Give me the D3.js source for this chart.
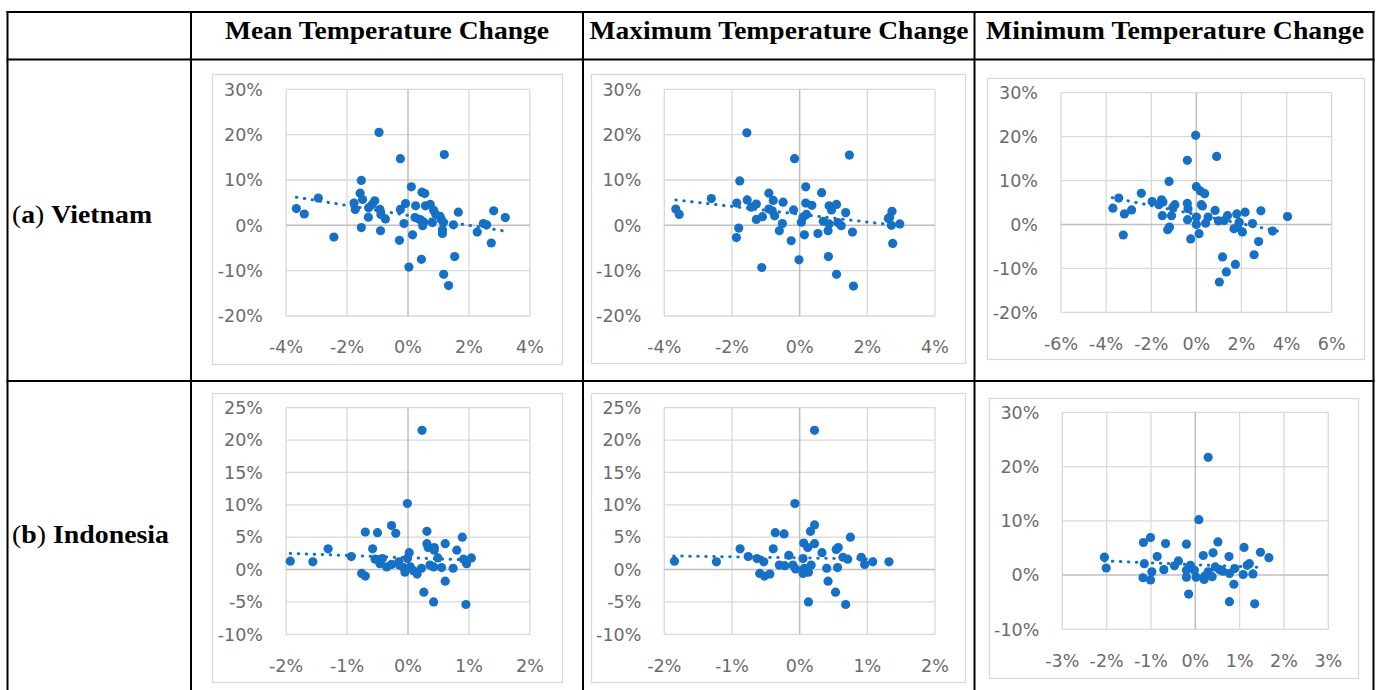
<!DOCTYPE html>
<html><head><meta charset="utf-8">
<script src="https://cdn.jsdelivr.net/npm/d3@7"></script>
<style>body{margin:0;background:#fff} svg{display:block}</style>
</head><body><svg id="c" width="1382" height="690"></svg>
<script>
// ---------- DATA ----------
const columnTitles = ["Mean Temperature Change", "Maximum Temperature Change", "Minimum Temperature Change"];
const rowLetters = ["a", "b"];
const rowNames = ["Vietnam", "Indonesia"];

// tick labels (percent)
const vnXTicksA = [-4, -2, 0, 2, 4];
const vnXTicksB = [-6, -4, -2, 0, 2, 4, 6];
const vnYTicks = [-20, -10, 0, 10, 20, 30];
const idXTicksA = [-2, -1, 0, 1, 2];
const idXTicksB = [-3, -2, -1, 0, 1, 2, 3];
const idYTicksA = [-10, -5, 0, 5, 10, 15, 20, 25];
const idYTicksB = [-10, 0, 10, 20, 30];

// [temperature change %, yield change %]
const vnMean = [[-0.95,20.5],[-0.25,14.7],[1.19,15.6],[-1.53,9.9],[0.11,8.5],[0.46,7.3],[0.55,7.0],[-1.57,7.1],[-2.94,6.0],[-1.77,4.9],
[-1.49,5.7],[-1.09,5.4],[-1.17,4.6],[-1.29,3.9],[-1.73,3.5],[-0.92,3.5],[-3.66,3.7],[-3.40,2.5],[-1.30,1.8],[-0.89,2.4],
[-0.74,1.4],[-0.25,3.5],[-0.08,4.8],[0.25,4.3],[0.57,4.3],[0.73,4.6],[0.84,3.3],[0.91,2.4],[1.05,2.0],[1.09,1.3],
[0.23,1.7],[0.38,1.3],[0.52,0.7],[0.48,-0.1],[0.80,0.6],[1.16,0.6],[1.65,2.9],[2.81,3.2],[3.19,1.7],[2.47,0.4],
[2.58,0.1],[2.27,-1.5],[2.73,-3.9],[1.49,0.1],[1.13,-1.0],[1.13,-1.8],[-0.13,0.4],[0.15,-2.1],[-0.28,-3.3],[-1.53,-0.5],
[-0.90,-1.2],[-2.43,-2.6],[0.44,-7.5],[0.03,-9.2],[1.53,-6.9],[1.17,-10.8],[1.33,-13.3]];
const vnMax = [[-1.56,20.4],[-0.15,14.7],[1.47,15.5],[-1.77,9.8],[0.18,8.5],[0.65,7.2],[-0.91,7.1],[-2.61,5.9],[-1.86,4.9],[-1.55,5.6],
[-0.78,5.5],[-0.49,5.1],[-1.28,4.7],[-1.43,4.0],[-0.91,3.6],[-0.81,3.2],[-3.66,3.6],[-3.56,2.4],[-1.28,1.3],[-1.10,1.9],
[-0.74,2.1],[-0.18,3.4],[0.18,4.9],[0.36,4.4],[0.87,4.3],[1.09,4.6],[0.94,3.4],[1.36,2.8],[0.20,2.4],[0.10,1.8],
[0.05,0.7],[0.70,0.9],[0.87,0.3],[1.13,0.6],[1.23,-0.1],[0.84,-1.2],[-0.51,0.4],[-0.60,-1.2],[0.54,-1.8],[0.14,-2.1],
[1.56,-1.5],[-0.25,-3.4],[-1.80,-0.6],[-1.87,-2.7],[2.62,1.5],[2.73,3.1],[2.96,0.3],[2.71,0.0],[2.75,-4.0],[0.85,-6.9],
[-0.02,-7.6],[-1.12,-9.3],[1.09,-10.8],[1.59,-13.4],[2.66,1.8]];
const vnMin = [[-0.03,20.3],[-0.40,14.6],[0.90,15.5],[-1.21,9.8],[0.0,8.6],[0.18,7.6],[0.37,7.0],[-2.44,7.1],[-3.44,6.0],[-1.96,5.2],
[-1.54,5.6],[-1.48,5.1],[-0.95,4.5],[-1.04,3.9],[-1.66,4.5],[-0.40,4.8],[0.22,4.5],[0.27,4.2],[-3.70,3.7],[-3.19,2.4],
[-2.87,3.3],[-0.37,3.6],[0.83,3.2],[-1.51,2.0],[-1.10,2.0],[0.0,1.7],[0.52,1.7],[-0.39,1.1],[0.41,0.3],[0.98,0.8],
[1.23,0.9],[1.38,2.0],[1.79,2.4],[2.16,2.8],[2.86,3.1],[4.04,1.8],[1.90,0.5],[2.49,0.2],[0.0,0.0],[1.82,-0.6],
[1.67,-1.0],[2.04,-1.7],[3.38,-1.5],[-1.19,-0.6],[-1.27,-1.2],[0.12,-2.1],[-0.25,-3.3],[-3.24,-2.4],[2.76,-3.9],[2.56,-6.9],
[1.16,-7.4],[1.73,-9.1],[1.33,-10.8],[1.02,-13.1]];
const idMean = [[0.23,21.5],[-0.01,10.2],[-0.27,6.8],[-0.70,5.8],[-0.50,5.7],[-0.20,5.6],[0.31,5.9],[0.61,4.0],[0.89,5.0],[0.31,4.0],
[0.33,3.4],[0.43,3.4],[0.43,3.0],[0.80,3.0],[-1.31,3.2],[-0.58,3.2],[-1.93,1.3],[-1.56,1.2],[-0.93,2.0],[-0.54,1.6],
[-0.42,1.7],[-0.46,0.9],[-0.35,0.4],[-0.27,0.8],[-0.15,1.2],[-0.14,0.7],[0.02,2.6],[-0.01,1.7],[-0.07,0.3],[-0.05,-0.4],
[0.04,0.4],[0.09,-0.2],[0.15,-0.7],[0.22,0.2],[0.36,0.7],[0.42,0.4],[0.49,1.8],[0.55,0.3],[0.74,0.2],[0.91,1.6],
[0.96,0.9],[1.04,1.8],[-0.76,-0.6],[-0.70,-1.0],[0.61,-1.8],[0.26,-3.5],[0.42,-5.0],[0.95,-5.4]];
const idMax = [[0.22,21.5],[-0.07,10.2],[0.22,6.9],[0.16,5.9],[-0.36,5.7],[-0.23,5.5],[0.75,5.0],[0.06,4.1],[0.22,4.0],[0.12,3.4],
[0.33,2.6],[0.54,3.1],[0.57,3.4],[-0.88,3.2],[-0.39,3.2],[-1.85,1.3],[-1.23,1.2],[-0.76,2.0],[-0.63,1.7],[-0.53,1.2],
[-0.16,2.2],[-0.30,0.7],[-0.22,0.6],[-0.10,0.7],[-0.06,0.1],[0.05,1.7],[0.07,0.2],[0.05,-0.6],[0.13,-0.4],[0.17,0.7],
[0.64,1.9],[0.71,1.6],[0.91,1.9],[0.96,0.8],[1.08,1.2],[1.32,1.2],[0.40,0.2],[0.56,0.3],[-0.59,-0.6],[-0.52,-1.0],
[-0.44,-0.7],[0.42,-1.8],[0.53,-3.5],[0.13,-5.0],[0.68,-5.4]];
const idMin = [[0.29,21.7],[0.08,10.2],[-1.01,6.9],[-1.17,6.0],[-0.67,5.8],[-0.20,5.7],[0.51,6.1],[1.10,5.1],[1.47,4.2],[1.66,3.2],
[-2.05,3.3],[-0.86,3.4],[0.40,4.1],[0.18,3.6],[0.76,3.4],[-2.01,1.3],[-1.15,2.1],[-0.38,2.6],[-0.47,1.7],[-0.71,1.0],
[-0.98,0.6],[-0.11,1.8],[-0.20,0.9],[-0.20,-0.4],[0.02,-0.4],[0.21,-0.2],[0.20,-0.8],[0.38,-0.3],[0.29,0.6],[0.45,1.5],
[0.55,1.0],[0.62,0.7],[0.77,0.3],[0.89,1.2],[1.08,0.1],[1.17,1.8],[1.22,2.1],[1.30,0.2],[-1.18,-0.5],[-1.01,-0.9],
[0.87,-1.7],[-0.15,-3.5],[0.77,-4.9],[1.34,-5.3],[-0.02,0.9]];

// linear trend line end points
const vnMeanTrend = [[-3.66,6.2],[3.2,-1.3]];
const vnMaxTrend = [[-3.66,5.6],[2.96,-0.1]];
const vnMinTrend = [[-3.73,6.1],[3.9,-1.8]];
const idMeanTrend = [[-1.93,2.5],[0.96,1.5]];
const idMaxTrend = [[-1.86,2.1],[1.19,1.6]];
const idMinTrend = [[-2.05,2.6],[1.53,1.4]];

// ---------- LAYOUT ----------
const panels = [
  {pts: vnMean, trend: vnMeanTrend, xt: vnXTicksA, yt: vnYTicks, box:[211.5,74,561,364], plot:[286,89.3,530,316]},
  {pts: vnMax, trend: vnMaxTrend, xt: vnXTicksA, yt: vnYTicks, box:[591,74,965,363], plot:[664.3,89.3,935,316]},
  {pts: vnMin, trend: vnMinTrend, xt: vnXTicksB, yt: vnYTicks, box:[986.5,78,1363,359], plot:[1061,92.7,1331.7,312.3]},
  {pts: idMean, trend: idMeanTrend, xt: idXTicksA, yt: idYTicksA, box:[211.5,393,561,682], plot:[286,407.7,530,634.3]},
  {pts: idMax, trend: idMaxTrend, xt: idXTicksA, yt: idYTicksA, box:[591,393,965,682], plot:[664.3,407.7,935,634.3]},
  {pts: idMin, trend: idMinTrend, xt: idXTicksB, yt: idYTicksB, box:[988.5,397.7,1357.7,677.7], plot:[1062.3,412.3,1328.3,629.3]}
];

const svg = d3.select("#c");
const blue = "#1570c6";
const tickFont = "'DejaVu Sans', sans-serif";

panels.forEach(p => {
  const [bx0, by0, bx1, by1] = p.box;
  const [px0, py0, px1, py1] = p.plot;
  const g = svg.append("g");
  g.append("rect").attr("x", Math.round(bx0)+0.5).attr("y", Math.round(by0)+0.5)
    .attr("width", Math.round(bx1-bx0)).attr("height", Math.round(by1-by0))
    .attr("fill", "#fff").attr("stroke", "#d9d9d9").attr("stroke-width", 1.3);
  const x = d3.scaleLinear().domain(d3.extent(p.xt)).range([px0, px1]);
  const y = d3.scaleLinear().domain(d3.extent(p.yt)).range([py1, py0]);
  // gridlines
  g.selectAll(".gx").data(p.xt.filter(d => d !== 0)).join("line")
    .attr("x1", d => x(d)).attr("x2", d => x(d)).attr("y1", py0).attr("y2", py1)
    .attr("stroke", "#d9d9d9").attr("stroke-width", 1.3);
  g.selectAll(".gy").data(p.yt.filter(d => d !== 0)).join("line")
    .attr("y1", d => y(d)).attr("y2", d => y(d)).attr("x1", px0).attr("x2", px1)
    .attr("stroke", "#d9d9d9").attr("stroke-width", 1.3);
  // zero axes
  g.append("line").attr("x1", x(0)).attr("x2", x(0)).attr("y1", py0).attr("y2", py1)
    .attr("stroke", "#bfbfbf").attr("stroke-width", 1.5);
  g.append("line").attr("y1", y(0)).attr("y2", y(0)).attr("x1", px0).attr("x2", px1)
    .attr("stroke", "#bfbfbf").attr("stroke-width", 1.5);
  // tick labels
  g.selectAll(".ty").data(p.yt).join("text")
    .attr("x", px0 - 23).attr("y", d => y(d)).attr("dy", "0.36em")
    .attr("text-anchor", "end").attr("font-family", tickFont).attr("font-size", 17.5)
    .attr("fill", "#6b6b6b").text(d => d + "%");
  g.selectAll(".tx").data(p.xt).join("text")
    .attr("x", d => x(d)).attr("y", py1 + 31).attr("dy", "0.36em")
    .attr("text-anchor", "middle").attr("font-family", tickFont).attr("font-size", 17.5)
    .attr("fill", "#6b6b6b").text(d => d + "%");
  // trend line
  g.append("path").datum(p.trend)
    .attr("d", d3.line().x(d => x(d[0])).y(d => y(d[1])))
    .attr("fill", "none").attr("stroke", blue).attr("stroke-width", 3)
    .attr("stroke-linecap", "round").attr("stroke-dasharray", "0.5 7.5");
  // points
  g.selectAll(".pt").data(p.pts).join("circle")
    .attr("cx", d => x(d[0])).attr("cy", d => y(d[1])).attr("r", 4.6)
    .attr("fill", blue);
});

// ---------- TABLE ----------
const tbl = svg.append("g").attr("stroke", "#000").attr("stroke-width", 2);
const hLines = [12, 59.5, 381];
const vLines = [7.5, 191, 583, 974.5, 1373.5];
hLines.forEach(yy => tbl.append("line").attr("x1", 6.5).attr("x2", 1374.5).attr("y1", yy).attr("y2", yy));
vLines.forEach(xx => tbl.append("line").attr("x1", xx).attr("x2", xx).attr("y1", 11).attr("y2", 692));

const serif = "'Liberation Serif', 'Times New Roman', serif";
const colCenters = [387, 779, 1175];
const colWidths = [324, 379, 378];
columnTitles.forEach((t, i) => {
  svg.append("text").attr("x", colCenters[i] - colWidths[i] / 2).attr("y", 38.5)
    .attr("font-family", serif).attr("font-weight", "bold")
    .attr("font-size", 24.5).attr("fill", "#000")
    .attr("textLength", colWidths[i]).attr("lengthAdjust", "spacingAndGlyphs").text(t);
});
const rowBase = [223.3, 543];
const rowWidths = [140, 157];
rowNames.forEach((n, i) => {
  const s = svg.append("text").attr("x", 12).attr("y", rowBase[i])
    .attr("font-family", serif).attr("font-size", 24.5).attr("fill", "#000")
    .attr("textLength", rowWidths[i]).attr("lengthAdjust", "spacingAndGlyphs");
  s.append("tspan").text("(");
  s.append("tspan").attr("font-weight", "bold").text(rowLetters[i]);
  s.append("tspan").text(") ");
  s.append("tspan").attr("font-weight", "bold").text(n);
});
</script>
</body></html>
